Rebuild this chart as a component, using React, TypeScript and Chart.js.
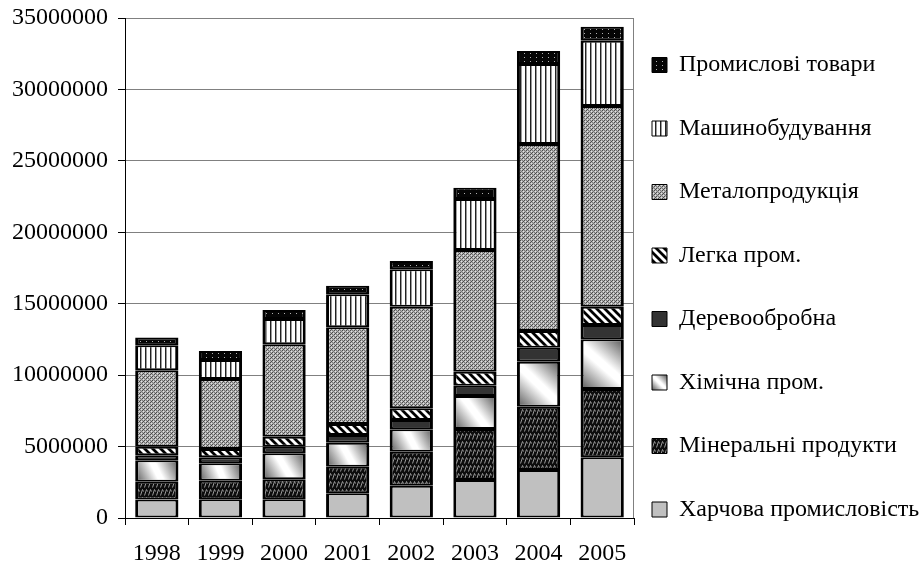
import React, { useEffect, useRef } from 'react';
import { Chart, registerables } from 'chart.js';

Chart.register(...registerables);

const years = ['1998', '1999', '2000', '2001', '2002', '2003', '2004', '2005'];

const foodIndustry = [1300000, 1310000, 1310000, 1730000, 2260000, 2660000, 3360000, 4250000];
const mineralProducts = [1240000, 1300000, 1400000, 1860000, 2380000, 3570000, 4430000, 4780000];
const chemicalIndustry = [1500000, 1220000, 1820000, 1680000, 1570000, 2310000, 3150000, 3480000];
const woodworking = [350000, 420000, 460000, 540000, 650000, 720000, 980000, 1000000];
const lightIndustry = [600000, 580000, 700000, 770000, 820000, 980000, 1170000, 1280000];
const metalProducts = [5350000, 4900000, 6470000, 6770000, 7110000, 8520000, 13090000, 14050000];
const machineBuilding = [1750000, 1330000, 1770000, 2310000, 2620000, 3570000, 5600000, 4570000];
const industrialGoods = [550000, 630000, 630000, 600000, 580000, 790000, 910000, 980000];

const seriesLabels = [
  'Харчова промисловість',
  'Мінеральні продукти',
  'Хімічна пром.',
  'Деревообробна',
  'Легка пром.',
  'Металопродукція',
  'Машинобудування',
  'Промислові товари',
];

const yMin = 0;
const yMax = 35000000;
const yStep = 5000000;

const FONT = 'Liberation Serif';
const BAR_FRACTION = 0.68;

function makeTile(w: number, h: number, draw: (g: CanvasRenderingContext2D) => void) {
  const c = document.createElement('canvas');
  c.width = w;
  c.height = h;
  const g = c.getContext('2d') as CanvasRenderingContext2D;
  draw(g);
  return c;
}

function makePatterns(ctx: CanvasRenderingContext2D) {
  const mineral = makeTile(8, 8, (g) => {
    g.fillStyle = '#0d0d0d';
    g.fillRect(0, 0, 8, 8);
    g.strokeStyle = '#9a9a9a';
    g.lineWidth = 1;
    g.beginPath();
    g.moveTo(0.5, 7.5);
    g.lineTo(2.5, 1.5);
    g.lineTo(3.5, 3.5);
    g.moveTo(4.5, 7.5);
    g.lineTo(6.5, 1.5);
    g.lineTo(7.5, 3.5);
    g.stroke();
  });
  const light = makeTile(8, 8, (g) => {
    g.fillStyle = '#ffffff';
    g.fillRect(0, 0, 8, 8);
    g.strokeStyle = '#000000';
    g.lineWidth = 2.8;
    g.beginPath();
    for (const k of [-8, 0, 8]) {
      g.moveTo(k - 1, -1);
      g.lineTo(k + 9, 9);
    }
    g.stroke();
  });
  const metal = makeTile(4, 4, (g) => {
    g.fillStyle = '#b4b4b4';
    g.fillRect(0, 0, 4, 4);
    g.fillStyle = '#4a4a4a';
    g.fillRect(0, 0, 1, 1);
    g.fillRect(2, 2, 1, 1);
    g.fillRect(3, 1, 1, 1);
    g.fillStyle = '#7a7a7a';
    g.fillRect(2, 0, 1, 1);
    g.fillRect(0, 2, 1, 1);
    g.fillRect(1, 3, 1, 1);
    g.fillStyle = '#e0e0e0';
    g.fillRect(1, 1, 1, 1);
    g.fillRect(3, 3, 1, 1);
  });
  const machine = makeTile(5, 5, (g) => {
    g.fillStyle = '#ffffff';
    g.fillRect(0, 0, 5, 5);
    g.fillStyle = '#222222';
    g.fillRect(0, 0, 1, 5);
    g.fillStyle = '#9a9a9a';
    g.fillRect(1, 0, 1, 5);
  });
  const goods = makeTile(6, 4, (g) => {
    g.fillStyle = '#050505';
    g.fillRect(0, 0, 6, 4);
    g.fillStyle = '#b0b0b0';
    g.fillRect(2, 1, 1, 1);
  });
  return {
    mineral: ctx.createPattern(mineral, 'repeat') as CanvasPattern,
    light: ctx.createPattern(light, 'repeat') as CanvasPattern,
    metal: ctx.createPattern(metal, 'repeat') as CanvasPattern,
    machine: ctx.createPattern(machine, 'repeat') as CanvasPattern,
    goods: ctx.createPattern(goods, 'repeat') as CanvasPattern,
  };
}

function chemGradient(ctx: CanvasRenderingContext2D, x0: number, y0: number, x1: number, y1: number) {
  // from top-right to bottom-left
  const g = ctx.createLinearGradient(x1, y0, x0, y1);
  g.addColorStop(0, '#555555');
  g.addColorStop(0.45, '#ffffff');
  g.addColorStop(0.55, '#ffffff');
  g.addColorStop(1, '#555555');
  return g;
}

export default function App() {
  const ref = useRef<HTMLCanvasElement | null>(null);

  useEffect(() => {
    const canvas = ref.current;
    if (!canvas) return;
    const ctx = canvas.getContext('2d') as CanvasRenderingContext2D;
    const p = makePatterns(ctx);

    const chemFill = (c: any) => {
      const chart = c.chart;
      const xs = chart.scales && chart.scales.x;
      const ys = chart.scales && chart.scales.y;
      if (c.type !== 'data' || !xs || !ys) return '#eeeeee';
      const i = c.dataIndex;
      const base = foodIndustry[i] + mineralProducts[i];
      const top = base + chemicalIndustry[i];
      const cx = xs.getPixelForValue(i);
      const half = ((xs.width / years.length) * BAR_FRACTION) / 2;
      return chemGradient(chart.ctx, cx - half, ys.getPixelForValue(top), cx + half, ys.getPixelForValue(base));
    };

    const fills: any[] = ['#c0c0c0', p.mineral, chemFill, '#333333', p.light, p.metal, p.machine, p.goods];
    const values = [
      foodIndustry,
      mineralProducts,
      chemicalIndustry,
      woodworking,
      lightIndustry,
      metalProducts,
      machineBuilding,
      industrialGoods,
    ];
    const legendFills: any[] = ['#c0c0c0', p.mineral, '#eeeeee', '#333333', p.light, p.metal, p.machine, p.goods];

    const framePlugin = {
      id: 'frame',
      beforeDraw(chart: any) {
        const legend = chart.legend;
        if (!legend || !legend.legendItems) return;
        legend.legendItems.forEach((item: any, idx: number) => {
          if (item.datasetIndex === 2) {
            const hb = legend.legendHitBoxes[idx];
            if (!hb) return;
            const x = hb.left;
            const y = hb.top + (24 - 15) / 2;
            item.fillStyle = chemGradient(chart.ctx, x, y, x + 15, y + 15);
          }
        });
      },
      beforeDatasetsDraw(chart: any) {
        const a = chart.chartArea;
        const c = chart.ctx;
        c.save();
        c.strokeStyle = '#808080';
        c.lineWidth = 1;
        c.beginPath();
        const rx = Math.round(a.right) - 0.5;
        c.moveTo(rx, a.top);
        c.lineTo(rx, a.bottom);
        c.stroke();
        c.restore();
      },
    };

    const chart = new Chart(canvas, {
      type: 'bar',
      data: {
        labels: years,
        datasets: values.map((v, i) => ({
          label: seriesLabels[i],
          data: v,
          backgroundColor: fills[i],
          borderColor: '#000000',
          borderWidth: { left: 3, right: 3, top: 2, bottom: 2 },
          borderSkipped: false,
          categoryPercentage: 1,
          barPercentage: BAR_FRACTION,
        })),
      },
      options: {
        responsive: false,
        animation: false,
        devicePixelRatio: 1,
        events: [],
        layout: { padding: { top: 18, right: 0, bottom: 0, left: 0 } },
        scales: {
          x: {
            stacked: true,
            grid: { display: true, drawOnChartArea: false, drawTicks: true, tickLength: 7, color: '#000000', tickColor: '#000000' },
            border: { display: true, color: '#000000', width: 1 },
            ticks: { color: '#000000', padding: 17, font: { family: FONT, size: 24, lineHeight: 1 }, maxRotation: 0 },
            afterFit: (s: any) => {
              s.height = 47;
            },
          },
          y: {
            stacked: true,
            min: yMin,
            max: yMax,
            grid: { color: '#808080', lineWidth: 1, tickLength: 7, tickColor: '#000000' },
            border: { display: true, color: '#000000', width: 1 },
            ticks: {
              stepSize: yStep,
              color: '#000000',
              padding: 10,
              font: { family: FONT, size: 24, lineHeight: 0.5 },
              callback: (v: any) => String(v),
            },
            afterFit: (s: any) => {
              s.width = 125;
            },
          },
        },
        plugins: {
          tooltip: { enabled: false },
          legend: {
            position: 'right',
            align: 'start',
            maxWidth: 290,
            title: { display: true, text: '', padding: 0, font: { size: 10, lineHeight: '17px' } },
            labels: {
              boxWidth: 15,
              boxHeight: 15,
              padding: 18,
              color: '#000000',
              font: { family: FONT, size: 24, lineHeight: '45.5px' },
              generateLabels: (ch: any) =>
                ch.data.datasets
                  .map((ds: any, i: number) => ({
                    text: [ds.label],
                    fillStyle: legendFills[i],
                    strokeStyle: '#000000',
                    lineWidth: 1,
                    hidden: false,
                    datasetIndex: i,
                    fontColor: '#000000',
                  }))
                  .reverse(),
            },
          },
        },
      } as any,
      plugins: [framePlugin],
    });

    return () => chart.destroy();
  }, []);

  return (
    <div style={{ position: 'absolute', left: 0, top: 0, width: 924, height: 565, background: '#ffffff' }}>
      <canvas ref={ref} width={924} height={565} style={{ display: 'block' }} />
    </div>
  );
}
